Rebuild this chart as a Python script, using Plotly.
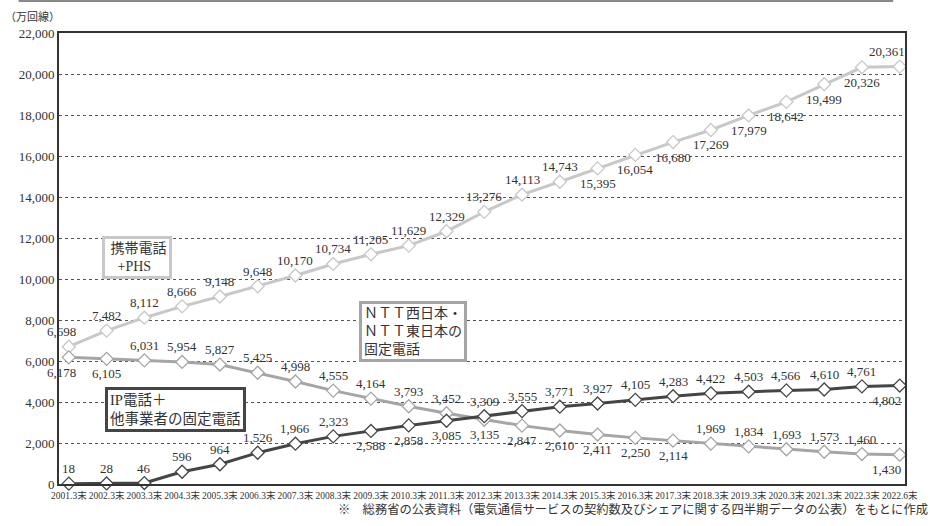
import plotly.graph_objects as go

categories = ["2001.3末","2002.3末","2003.3末","2004.3末","2005.3末","2006.3末","2007.3末","2008.3末",
              "2009.3末","2010.3末","2011.3末","2012.3末","2013.3末","2014.3末","2015.3末","2016.3末",
              "2017.3末","2018.3末","2019.3末","2020.3末","2021.3末","2022.3末","2022.6末"]
mobile = [6698,7482,8112,8666,9148,9648,10170,10734,11205,11629,12329,13276,14113,14743,15395,16054,
          16680,17269,17979,18642,19499,20326,20361]
ntt = [6178,6105,6031,5954,5827,5425,4998,4555,4164,3793,3452,3135,2847,2610,2411,2250,2114,1969,
       1834,1693,1573,1460,1430]
ip = [18,28,46,596,964,1526,1966,2323,2588,2858,3085,3309,3555,3771,3927,4105,4283,4422,4503,4566,
      4610,4761,4802]
y_ticks = [0,2000,4000,6000,8000,10000,12000,14000,16000,18000,20000,22000]

# label side: +1 above, -1 below
mobile_side = [1]*14 + [-1]*8 + [1]
ntt_side = [-1,-1] + [1]*9 + [-1]*6 + [1]*5 + [-1]
ip_side = [1]*8 + [-1]*3 + [1]*11 + [-1]

FONT = "Liberation Serif, Noto Sans CJK JP, serif"
TICKFONT = "Liberation Serif, Noto Sans CJK JP, serif"

fig = go.Figure()

def add(series, color, sides, width, first_shift):
    fig.add_trace(go.Scatter(
        x=categories, y=series, mode="lines+markers",
        line=dict(color=color, width=width),
        marker=dict(symbol="diamond", size=10, color="white", line=dict(color=color, width=1.3)),
        cliponaxis=False, showlegend=False))
    n = len(series)
    for i, (c, v, s) in enumerate(zip(categories, series, sides)):
        xs = 0
        if i == 0:
            xs = first_shift
        elif i == n - 1:
            xs = -13
        fig.add_annotation(x=c, y=v, text=f"{v:,}", showarrow=False,
                           yshift=15 * s, xshift=xs,
                           font=dict(family=FONT, size=13, color="#333333"))

add(mobile, "#c8c8c8", mobile_side, 3, -7)
add(ntt, "#a5a5a5", ntt_side, 3, -7)
add(ip, "#454545", ip_side, 3, 0)

fig.update_layout(
    width=930, height=526, margin=dict(l=59, r=13, t=33, b=42),
    paper_bgcolor="white", plot_bgcolor="white",
    font=dict(family=FONT, color="#333333"),
    xaxis=dict(type="category", range=[-0.26, 22.14], showgrid=False, showline=True,
               linecolor="#333333", linewidth=2, mirror=True, ticks="",
               tickfont=dict(family=TICKFONT, size=9.5, color="#333333"), tickangle=0,
               ticklabelstandoff=2),
    yaxis=dict(range=[0, 22000], tickvals=y_ticks, tickformat=",", showgrid=True,
               gridcolor="#555555", griddash="dot", gridwidth=1, showline=True,
               linecolor="#333333", linewidth=2, mirror=True, ticks="",
               tickfont=dict(family=FONT, size=13), zeroline=False),
)

fig.add_shape(type="line", xref="paper", yref="paper", x0=(18-59)/858, x1=(905-59)/858,
              y0=(484-1)/451, y1=(484-1)/451, line=dict(color="#888888", width=2))

fig.add_annotation(text="（万回線）", xref="paper", yref="paper", x=(2-59)/858, y=(484-17)/451,
                   xanchor="left", yanchor="middle", showarrow=False,
                   font=dict(family=FONT, size=11, color="#333333"))

def box(text, x0, y0, color, size=14):
    fig.add_annotation(text=text, xref="paper", yref="paper", x=(x0-59)/858, y=(484-y0)/451,
                       xanchor="left", yanchor="top", showarrow=False, align="left",
                       bgcolor="white", bordercolor=color, borderwidth=3, borderpad=2,
                       font=dict(family=FONT, size=size, color="#333333"))

box(" 携帯電話<br>   +PHS", 103, 236, "#c8c8c8", 14)
box("ＮＴＴ西日本・<br>ＮＴＴ東日本の<br>固定電話", 363, 301, "#a5a5a5", 14)
box("IP電話＋<br>他事業者の固定電話", 106, 387, "#454545", 14.5)

fig.add_annotation(text="※　総務省の公表資料（電気通信サービスの契約数及びシェアに関する四半期データの公表）をもとに作成",
                   xref="paper", yref="paper", x=(942-59)/858, y=(484-509)/451,
                   xanchor="right", yanchor="middle", showarrow=False,
                   font=dict(family=FONT, size=12.3, color="#333333"))

fig.write_html("out.html", config={"displayModeBar": False},
               post_script="document.body.style.margin='0px';")
